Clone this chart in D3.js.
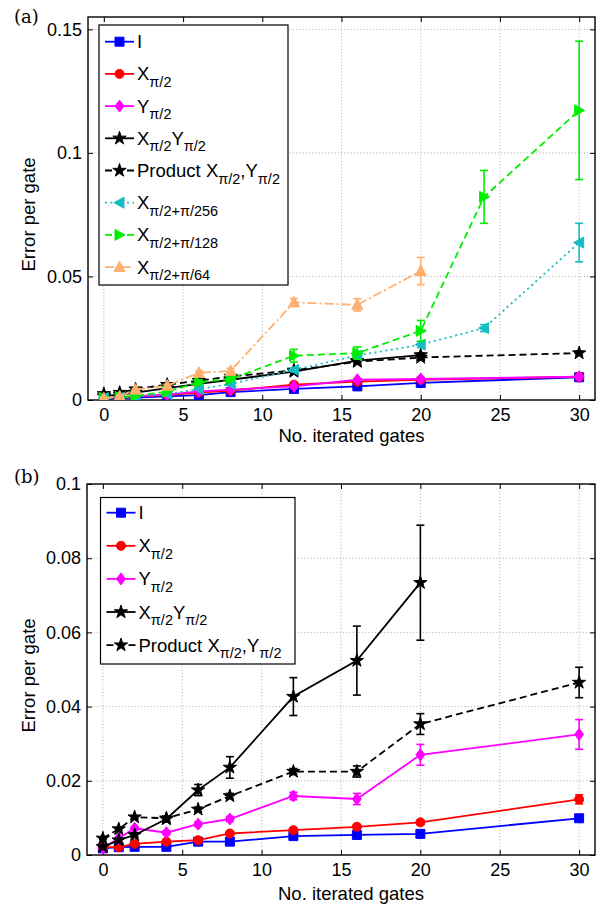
<!DOCTYPE html>
<html>
<head>
<meta charset="utf-8">
<script src="https://cdn.jsdelivr.net/npm/d3@7"></script>
<style>
  body { margin: 0; background: #fff; }
  svg { display: block; font-family: "Liberation Sans", Arial, sans-serif; }
</style>
</head>
<body>
<div id="chart"></div>
<script>
///// DATOS //////
// panel (a)
let gatesA = [0, 1, 2, 4, 6, 8, 12, 16, 20, 30];
let gatesA20 = [0, 1, 2, 4, 6, 8, 12, 16, 20];
let gatesA24 = [0, 1, 2, 4, 6, 8, 12, 16, 20, 24, 30];

let aI = [0.0005, 0.0008, 0.0010, 0.0015, 0.0020, 0.0032, 0.0045, 0.0055, 0.0069, 0.0092];
let aX = [0.0008, 0.0010, 0.0015, 0.0020, 0.0030, 0.0038, 0.0062, 0.0074, 0.0082, 0.0094];
let aY = [0.0008, 0.0012, 0.0016, 0.0022, 0.0035, 0.0042, 0.0055, 0.0082, 0.0085, 0.0094];
let aXY = [0.0016, 0.0022, 0.0030, 0.0048, 0.0065, 0.0082, 0.0115, 0.0159, 0.0182];
let aProd = [0.0025, 0.0030, 0.0044, 0.0062, 0.0078, 0.0095, 0.0120, 0.0155, 0.0172, 0.0190];
let a256 = [0.0008, 0.0010, 0.0015, 0.0024, 0.0044, 0.0065, 0.0122, 0.0180, 0.0224, 0.0291, 0.0637];
let a128 = [0.0009, 0.0012, 0.0017, 0.0034, 0.0072, 0.0085, 0.0179, 0.0190, 0.0280, 0.0822, 0.1172];
let a64 = [0.0007, 0.0015, 0.0042, 0.0058, 0.0110, 0.0118, 0.0395, 0.0385, 0.0522];

let aIerr = [0.0002, 0.0002, 0.0002, 0.0002, 0.0003, 0.0003, 0.0004, 0.0004, 0.0005, 0.0006];
let aXerr = [0.0002, 0.0002, 0.0002, 0.0002, 0.0003, 0.0003, 0.0004, 0.0005, 0.0005, 0.0006];
let aYerr = [0.0002, 0.0002, 0.0002, 0.0003, 0.0003, 0.0004, 0.0004, 0.0005, 0.0005, 0.0006];
let aXYerr = [0.0002, 0.0002, 0.0003, 0.0003, 0.0004, 0.0005, 0.0006, 0.0007, 0.0008];
let aProdErr = [0.0002, 0.0002, 0.0003, 0.0003, 0.0004, 0.0005, 0.0006, 0.0007, 0.0008, 0.0008];
let a256err = [0.0002, 0.0002, 0.0002, 0.0003, 0.0004, 0.0005, 0.0008, 0.0010, 0.0012, 0.0014, 0.0078];
let a128err = [0.0003, 0.0003, 0.0004, 0.0005, 0.0010, 0.0010, 0.0026, 0.0025, 0.0042, 0.0107, 0.0280];
let a64err = [0.0003, 0.0003, 0.0004, 0.0005, 0.0008, 0.0010, 0.0016, 0.0025, 0.0055];

// panel (b)
let gatesB = [0, 1, 2, 4, 6, 8, 12, 16, 20, 30];
let gatesB20 = [0, 1, 2, 4, 6, 8, 12, 16, 20];

let bI = [0.0018, 0.0021, 0.0022, 0.0022, 0.0036, 0.0036, 0.0051, 0.0054, 0.0057, 0.0099];
let bX = [0.0021, 0.0021, 0.0030, 0.0036, 0.0040, 0.0058, 0.0067, 0.0076, 0.0088, 0.0150];
let bY = [0.0018, 0.0045, 0.0072, 0.0060, 0.0083, 0.0097, 0.0159, 0.0151, 0.0270, 0.0325];
let bXY = [0.0022, 0.0040, 0.0054, 0.0097, 0.0175, 0.0236, 0.0427, 0.0524, 0.0734];
let bProd = [0.0045, 0.0070, 0.0102, 0.0099, 0.0123, 0.0159, 0.0225, 0.0225, 0.0353, 0.0465];

let bIerr = [0.0003, 0.0003, 0.0003, 0.0003, 0.0004, 0.0004, 0.0005, 0.0005, 0.0005, 0.0008];
let bXerr = [0.0003, 0.0003, 0.0003, 0.0004, 0.0004, 0.0005, 0.0005, 0.0006, 0.0006, 0.0012];
let bYerr = [0.0003, 0.0003, 0.0005, 0.0005, 0.0006, 0.0007, 0.0010, 0.0015, 0.0028, 0.0040];
let bXYerr = [0.0003, 0.0005, 0.0006, 0.0008, 0.0015, 0.0029, 0.0051, 0.0093, 0.0155];
let bProdErr = [0.0003, 0.0004, 0.0004, 0.0005, 0.0006, 0.0007, 0.0008, 0.0015, 0.0028, 0.0041];

let xTicks = [0, 5, 10, 15, 20, 25, 30];
let yTicksA = [0, 0.05, 0.1, 0.15];
let yTicksB = [0, 0.02, 0.04, 0.06, 0.08, 0.1];

// etiquetas de la leyenda: [texto, subíndice?]
let lblI = [['I', false]];
let lblX = [['X', false], ['π/2', true]];
let lblY = [['Y', false], ['π/2', true]];
let lblXY = [['X', false], ['π/2', true], ['Y', false], ['π/2', true]];
let lblProd = [['Product X', false], ['π/2', true], [',Y', false], ['π/2', true]];
let lbl256 = [['X', false], ['π/2+π/256', true]];
let lbl128 = [['X', false], ['π/2+π/128', true]];
let lbl64 = [['X', false], ['π/2+π/64', true]];

///// ESTILOS //////
let styles = {
    I: {color: '#0000ff', marker: 'square', dash: null},
    X: {color: '#ff0000', marker: 'circle', dash: null},
    Y: {color: '#ff00ff', marker: 'diamond', dash: null},
    XY: {color: '#000000', marker: 'star', dash: null},
    Prod: {color: '#000000', marker: 'star', dash: '7,4'},
    c256: {color: '#14bcc4', marker: 'triLeft', dash: '2,3.5'},
    c128: {color: '#00ee00', marker: 'triRight', dash: '7,4'},
    c64: {color: '#ffb070', marker: 'triUp', dash: '9,3,2,3'}
};

function markerPath(type) {
    if (type == 'square') return 'M-4.5,-4.5h9v9h-9z';
    if (type == 'circle') return d3.symbol(d3.symbolCircle, 64)();
    if (type == 'diamond') return 'M0,-6L4.5,0L0,6L-4.5,0Z';
    if (type == 'star') return d3.symbol(d3.symbolStar, 55)();
    if (type == 'triLeft') return 'M-5.5,0L4.5,-5.5L4.5,5.5Z';
    if (type == 'triRight') return 'M5.5,0L-4.5,-5.5L-4.5,5.5Z';
    if (type == 'triUp') return 'M0,-6L5.5,4.5L-5.5,4.5Z';
}

let svg = d3.select('#chart').append('svg')
    .attr('width', 603)
    .attr('height', 907);

let fmt = function(d) { return String(+d.toFixed(3)); };

///// PANEL //////
function drawPanel(cfg) {
    let x = d3.scaleLinear().domain([-1, 31]).range([cfg.left, cfg.right]);
    let y = d3.scaleLinear().domain([0, cfg.yMax]).range([cfg.bottom, cfg.top]);
    let g = svg.append('g');

    // rejilla punteada
    g.selectAll('.gx').data(xTicks).enter().append('line')
        .attr('x1', d => x(d)).attr('x2', d => x(d))
        .attr('y1', cfg.top).attr('y2', cfg.bottom)
        .attr('stroke', '#999').attr('stroke-width', 0.8).attr('stroke-dasharray', '1,2.2');
    g.selectAll('.gy').data(cfg.yTicks.filter(d => d > 0 && y(d) > cfg.top + 1)).enter().append('line')
        .attr('x1', cfg.left).attr('x2', cfg.right)
        .attr('y1', d => y(d)).attr('y2', d => y(d))
        .attr('stroke', '#999').attr('stroke-width', 0.8).attr('stroke-dasharray', '1,2.2');

    // ejes (ticks hacia dentro, caja completa)
    let axB = g.append('g').attr('transform', 'translate(0,' + cfg.bottom + ')')
        .call(d3.axisBottom(x).tickValues(xTicks).tickSizeInner(-5).tickSizeOuter(0).tickPadding(8).tickFormat(d3.format('d')));
    let axT = g.append('g').attr('transform', 'translate(0,' + cfg.top + ')')
        .call(d3.axisTop(x).tickValues(xTicks).tickSizeInner(-5).tickSizeOuter(0).tickFormat(''));
    let axL = g.append('g').attr('transform', 'translate(' + cfg.left + ',0)')
        .call(d3.axisLeft(y).tickValues(cfg.yTicks).tickSizeInner(-5).tickSizeOuter(0).tickPadding(6).tickFormat(fmt));
    let axR = g.append('g').attr('transform', 'translate(' + cfg.right + ',0)')
        .call(d3.axisRight(y).tickValues(cfg.yTicks).tickSizeInner(-5).tickSizeOuter(0).tickFormat(''));
    [axB, axT, axL, axR].forEach(function(a) {
        a.select('.domain').remove();
        a.selectAll('line').attr('stroke', '#000').attr('stroke-width', 1);
        a.selectAll('text').attr('font-size', 18).attr('fill', '#000')
            .attr('font-family', '"Liberation Sans", Arial, sans-serif');
    });
    axB.selectAll('text').attr('dy', '0.71em');

    // caja
    g.append('rect')
        .attr('x', cfg.left).attr('y', cfg.top)
        .attr('width', cfg.right - cfg.left).attr('height', cfg.bottom - cfg.top)
        .attr('fill', 'none').attr('stroke', '#000').attr('stroke-width', 1.4);

    // series
    let clipId = 'clip' + cfg.id;
    svg.append('clipPath').attr('id', clipId).append('rect')
        .attr('x', cfg.left).attr('y', cfg.top)
        .attr('width', cfg.right - cfg.left).attr('height', cfg.bottom - cfg.top);

    let line = d3.line().x(d => x(d.g)).y(d => y(d.v));

    cfg.series.forEach(function(s) {
        let st = styles[s.key];
        let pts = s.gates.map((gv, i) => ({g: gv, v: s.values[i], e: s.err[i]}));
        let sg = g.append('g').attr('clip-path', 'url(#' + clipId + ')');
        sg.append('path')
            .attr('d', line(pts))
            .attr('fill', 'none')
            .attr('stroke', st.color)
            .attr('stroke-width', 1.8)
            .attr('stroke-dasharray', st.dash);
        // barras de error
        let eb = sg.selectAll('.eb').data(pts).enter().append('g')
            .attr('stroke', st.color).attr('stroke-width', 1.6);
        eb.append('line')
            .attr('x1', d => x(d.g)).attr('x2', d => x(d.g))
            .attr('y1', d => y(d.v - d.e)).attr('y2', d => y(d.v + d.e));
        eb.append('line')
            .attr('x1', d => x(d.g) - 4).attr('x2', d => x(d.g) + 4)
            .attr('y1', d => y(d.v - d.e)).attr('y2', d => y(d.v - d.e));
        eb.append('line')
            .attr('x1', d => x(d.g) - 4).attr('x2', d => x(d.g) + 4)
            .attr('y1', d => y(d.v + d.e)).attr('y2', d => y(d.v + d.e));
        // marcadores
        sg.selectAll('.mk').data(pts).enter().append('path')
            .attr('d', markerPath(st.marker))
            .attr('transform', d => 'translate(' + x(d.g) + ',' + y(d.v) + ')')
            .attr('fill', st.color)
            .attr('stroke', st.color)
            .attr('stroke-width', 1);
    });

    // leyenda
    let lg = cfg.legend;
    g.append('rect')
        .attr('x', lg.x).attr('y', lg.y).attr('width', lg.w).attr('height', lg.h)
        .attr('fill', '#fff').attr('stroke', '#000').attr('stroke-width', 1.2);
    cfg.series.forEach(function(s, i) {
        let st = styles[s.key];
        let ry = lg.row0 + i * lg.step;
        let it = g.append('g');
        it.append('line')
            .attr('x1', lg.x + 6).attr('x2', lg.x + 35)
            .attr('y1', ry).attr('y2', ry)
            .attr('stroke', st.color).attr('stroke-width', 1.8)
            .attr('stroke-dasharray', st.dash);
        it.append('path')
            .attr('d', markerPath(st.marker))
            .attr('transform', 'translate(' + (lg.x + 20.5) + ',' + ry + ')')
            .attr('fill', st.color).attr('stroke', st.color);
        let t = it.append('text')
            .attr('x', lg.x + 38).attr('y', ry + 6.5)
            .attr('font-size', 18.5).attr('fill', '#000');
        let shifted = false;
        s.label.forEach(function(p) {
            let ts = t.append('tspan').text(p[0]);
            if (p[1]) {
                ts.attr('font-size', 14.5).attr('dy', shifted ? 0 : 6.5);
                shifted = true;
            } else {
                ts.attr('dy', shifted ? -6.5 : 0);
                shifted = false;
            }
        });
    });

    // títulos de ejes
    g.append('text')
        .attr('x', (cfg.left + cfg.right) / 2 + 10).attr('y', cfg.xLabelY)
        .attr('text-anchor', 'middle').attr('font-size', 18.5)
        .text('No. iterated gates');
    g.append('text')
        .attr('transform', 'translate(35,' + ((cfg.top + cfg.bottom) / 2 + 6) + ') rotate(-90)')
        .attr('text-anchor', 'middle').attr('font-size', 18.5)
        .text('Error per gate');
    g.append('text')
        .attr('x', 14).attr('y', cfg.tagY)
        .attr('font-family', '"DejaVu Serif", "Liberation Serif", serif')
        .attr('font-size', 18)
        .text(cfg.tag);
}

drawPanel({
    id: 'a', tag: '(a)', tagY: 23,
    left: 88, right: 595, top: 17, bottom: 400, yMax: 0.155, yTicks: yTicksA,
    xLabelY: 442,
    legend: {x: 99, y: 25, w: 189, h: 260, row0: 41.7, step: 32.2},
    series: [
        {key: 'I', gates: gatesA, values: aI, err: aIerr, label: lblI},
        {key: 'X', gates: gatesA, values: aX, err: aXerr, label: lblX},
        {key: 'Y', gates: gatesA, values: aY, err: aYerr, label: lblY},
        {key: 'XY', gates: gatesA20, values: aXY, err: aXYerr, label: lblXY},
        {key: 'Prod', gates: gatesA, values: aProd, err: aProdErr, label: lblProd},
        {key: 'c256', gates: gatesA24, values: a256, err: a256err, label: lbl256},
        {key: 'c128', gates: gatesA24, values: a128, err: a128err, label: lbl128},
        {key: 'c64', gates: gatesA20, values: a64, err: a64err, label: lbl64}
    ]
});

drawPanel({
    id: 'b', tag: '(b)', tagY: 483,
    left: 87, right: 595, top: 484, bottom: 855, yMax: 0.1, yTicks: yTicksB,
    xLabelY: 900,
    legend: {x: 100.5, y: 497.5, w: 194.5, h: 166.5, row0: 512.7, step: 33.1},
    series: [
        {key: 'I', gates: gatesB, values: bI, err: bIerr, label: lblI},
        {key: 'X', gates: gatesB, values: bX, err: bXerr, label: lblX},
        {key: 'Y', gates: gatesB, values: bY, err: bYerr, label: lblY},
        {key: 'XY', gates: gatesB20, values: bXY, err: bXYerr, label: lblXY},
        {key: 'Prod', gates: gatesB, values: bProd, err: bProdErr, label: lblProd}
    ]
});
</script>
</body>
</html>
